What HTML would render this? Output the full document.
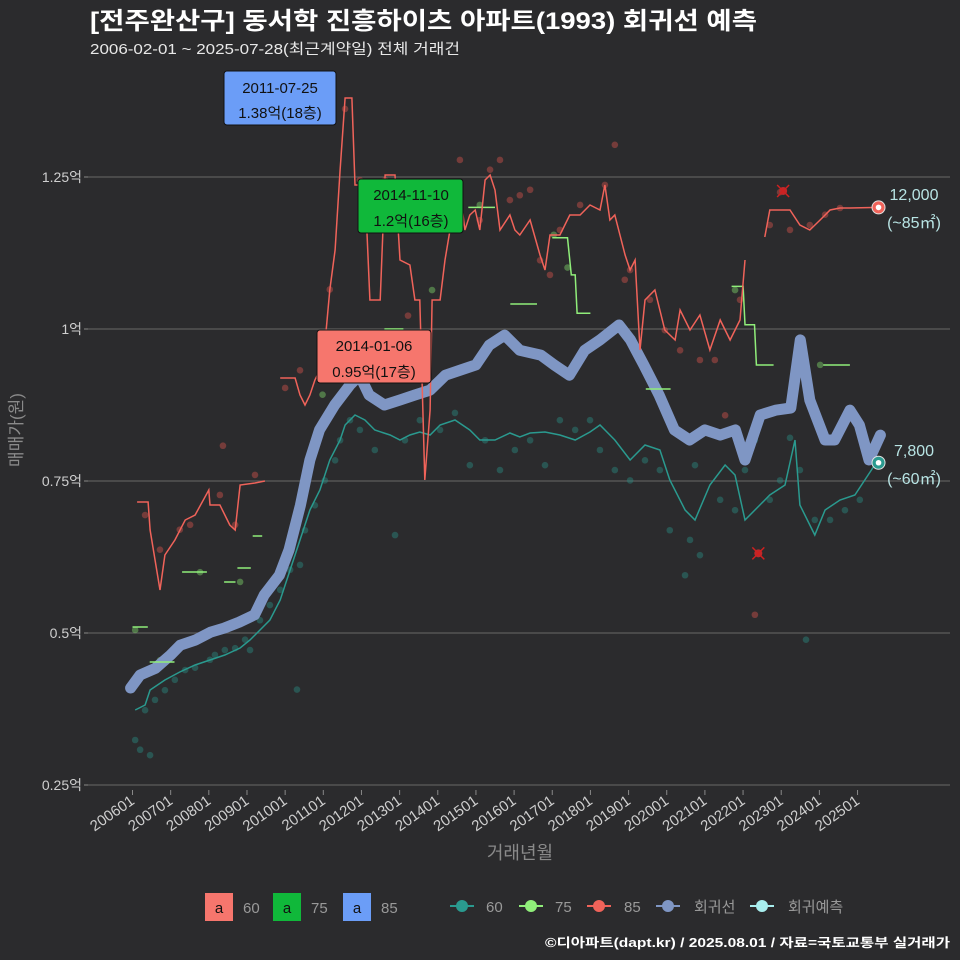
<!DOCTYPE html>
<html><head><meta charset="utf-8"><style>
body{margin:0;background:#2b2b2d;}
svg{display:block;font-family:"Liberation Sans","Noto Sans CJK KR",sans-serif;}
</style></head><body>
<svg id="c" width="960" height="960" viewBox="0 0 960 960">
<rect x="0" y="0" width="960" height="960" fill="#2b2b2d"/>
<text x="90" y="29" font-size="24" font-weight="bold" fill="#ffffff" textLength="667" lengthAdjust="spacingAndGlyphs">[전주완산구] 동서학 진흥하이츠 아파트(1993) 회귀선 예측</text>
<text x="90" y="54" font-size="14.5" fill="#e8e8e8" textLength="370" lengthAdjust="spacingAndGlyphs">2006-02-01 ~ 2025-07-28(최근계약일) 전체 거래건</text>
<g id="grid"></g>
<g id="yaxis"></g>
<g id="xaxis"></g>
<text x="22" y="430" font-size="17" fill="#8a8a8a" text-anchor="middle" transform="rotate(-90 22 430)">매매가(원)</text>
<text x="520" y="859" font-size="18" fill="#8a8a8a" text-anchor="middle">거래년월</text>
<g id="dots"></g>
<g id="lines"></g>
<g id="marks"></g>
<g>
<rect x="224" y="71" width="112" height="54" rx="3" fill="#6b9df7" stroke="#111"/>
<text x="280" y="93" font-size="15" text-anchor="middle" fill="#111">2011-07-25</text>
<text x="280" y="118" font-size="15" text-anchor="middle" fill="#111">1.38억(18층)</text></g>
<g>
<rect x="358" y="179" width="105" height="54" rx="3" fill="#10b83a" stroke="#111"/>
<text x="411" y="200" font-size="15" text-anchor="middle" fill="#111">2014-11-10</text>
<text x="411" y="226" font-size="15" text-anchor="middle" fill="#111">1.2억(16층)</text></g>
<g>
<rect x="317" y="330" width="114" height="53" rx="3" fill="#f6766d" stroke="#111"/>
<text x="374" y="351" font-size="15" text-anchor="middle" fill="#111">2014-01-06</text>
<text x="374" y="377" font-size="15" text-anchor="middle" fill="#111">0.95억(17층)</text></g>
<text x="914" y="200" font-size="16" fill="#b8e4e4" text-anchor="middle">12,000</text>
<text x="914" y="228" font-size="16" fill="#b8e4e4" text-anchor="middle">(~85㎡)</text>
<text x="914" y="456" font-size="16" fill="#b8e4e4" text-anchor="middle">7,800</text>
<text x="914" y="484" font-size="16" fill="#b8e4e4" text-anchor="middle">(~60㎡)</text>
<g font-size="15">
<rect x="205" y="893" width="28" height="28" fill="#f6766d"/><text x="219" y="913" text-anchor="middle" fill="#111">a</text><text x="243" y="913" fill="#999">60</text>
<rect x="273" y="893" width="28" height="28" fill="#10b83a"/><text x="287" y="913" text-anchor="middle" fill="#111">a</text><text x="311" y="913" fill="#999">75</text>
<rect x="343" y="893" width="28" height="28" fill="#6b9df7"/><text x="357" y="913" text-anchor="middle" fill="#111">a</text><text x="381" y="913" fill="#999">85</text>
<g><line x1="450" y1="906" x2="474" y2="906" stroke="#2a9a8f" stroke-width="2"/><circle cx="462" cy="906" r="6" fill="#2a9a8f"/><text x="486" y="912" fill="#999">60</text></g>
<g><line x1="519" y1="906" x2="543" y2="906" stroke="#90ee7a" stroke-width="2"/><circle cx="531" cy="906" r="6" fill="#90ee7a"/><text x="555" y="912" fill="#999">75</text></g>
<g><line x1="587" y1="906" x2="611" y2="906" stroke="#f0635a" stroke-width="2"/><circle cx="599" cy="906" r="6" fill="#f0635a"/><text x="624" y="912" fill="#999">85</text></g>
<g><line x1="656" y1="906" x2="680" y2="906" stroke="#7f96c4" stroke-width="2"/><circle cx="668" cy="906" r="6" fill="#7f96c4"/><text x="694" y="912" fill="#999">회귀선</text></g>
<g><line x1="750" y1="906" x2="774" y2="906" stroke="#a8eeee" stroke-width="2"/><circle cx="762" cy="906" r="6" fill="#a8eeee"/><text x="788" y="912" fill="#999">회귀예측</text></g>
</g>
<text x="950" y="947" font-size="12.5" font-weight="bold" fill="#ffffff" text-anchor="end" textLength="405" lengthAdjust="spacingAndGlyphs">©디아파트(dapt.kr) / 2025.08.01 / 자료=국토교통부 실거래가</text>
</svg>
<script>
const yTicks=[2500,5000,7500,10000,12500];
const yTickLabels=["0.25억","0.5억","0.75억","1억","1.25억"];
const xTicks=[2006,2007,2008,2009,2010,2011,2012,2013,2014,2015,2016,2017,2018,2019,2020,2021,2022,2023,2024,2025];
const xTickLabels=["200601","200701","200801","200901","201001","201101","201201","201301","201401","201501","201601","201701","201801","201901","202001","202101","202201","202301","202401","202501"];
const regYears=[2005.95,2006.2,2006.6,2007.0,2007.25,2007.65,2008.05,2008.4,2008.8,2009.2,2009.45,2009.85,2010.1,2010.4,2010.65,2010.9,2011.3,2011.7,2011.95,2012.2,2012.6,2013.0,2013.4,2013.8,2014.2,2014.6,2015.0,2015.35,2015.75,2016.15,2016.7,2017.05,2017.45,2017.85,2018.25,2018.75,2019.05,2019.4,2019.8,2020.2,2020.6,2021.0,2021.4,2021.8,2022.05,2022.45,2022.85,2023.25,2023.5,2023.75,2024.15,2024.4,2024.8,2025.05,2025.3,2025.6];
const regValues=[4095,4310,4420,4640,4800,4885,5015,5080,5180,5300,5625,5950,6365,7100,7845,8340,8750,9080,9240,8915,8750,8830,8915,8995,9240,9325,9410,9735,9900,9650,9570,9410,9240,9650,9820,10065,9820,9410,8915,8340,8175,8340,8255,8340,7845,8585,8665,8700,9820,8830,8175,8175,8665,8420,7845,8255];
const s60Years=[2006.07,2006.33,2006.46,2006.85,2007.24,2007.64,2008.03,2008.42,2008.82,2009.08,2009.34,2009.6,2009.87,2010.13,2010.39,2010.65,2010.91,2011.17,2011.44,2011.57,2011.83,2012.09,2012.35,2012.75,2013.01,2013.27,2013.53,2013.8,2014.06,2014.45,2014.84,2015.1,2015.5,2015.89,2016.15,2016.42,2016.81,2017.2,2017.6,2017.99,2018.25,2018.64,2019.04,2019.43,2019.82,2020.08,2020.48,2020.74,2021.13,2021.53,2021.79,2022.05,2022.44,2022.7,2023.1,2023.36,2023.49,2023.88,2024.15,2024.54,2024.93,2025.19,2025.45];
const s60Values=[3734,3816,4062,4227,4359,4474,4556,4638,4753,4885,5049,5214,5543,6036,6530,7023,7352,7845,8174,8421,8585,8503,8339,8256,8174,8256,8306,8256,8421,8503,8339,8174,8174,8289,8224,8289,8306,8256,8174,8306,8421,8174,7845,8092,8010,7516,7023,6858,7434,7763,7598,6858,7105,7270,7434,8174,7105,6612,7023,7187,7270,7516,7763];
const s85Years=[2006.12,2006.41,2006.46,2006.72,2006.85,2007.11,2007.38,2007.64,2008.0,2008.03,2008.29,2008.55,2008.69,2008.82,2009.21,2009.47,null,2009.87,2010.26,2010.39,2010.52,2010.65,2010.78,2010.91,2011.04,2011.17,2011.31,2011.44,2011.57,2011.75,2011.83,2012.09,2012.22,2012.49,2012.62,2012.88,2013.01,2013.27,2013.4,2013.53,2013.66,2013.8,2013.85,2014.06,2014.19,2014.32,2014.45,2014.58,2014.71,2014.84,2014.98,2015.1,2015.24,2015.37,2015.5,2015.63,2015.89,2016.02,2016.15,2016.42,2016.68,2016.81,2016.94,2017.2,2017.46,2017.73,2017.99,2018.25,2018.38,2018.51,2018.64,2018.91,2019.04,2019.17,2019.3,2019.43,2019.69,2019.95,2020.22,2020.35,2020.61,2020.87,2021.13,2021.4,2021.66,2021.92,2022.05,null,2022.57,2022.7,2023.23,2023.49,2023.75,2024.02,2024.28,2024.54,2024.8,2025.55];
const s85Values=[7155,7155,6694,5707,6283,6530,6858,6941,7352,7105,7105,6776,6694,7434,7467,7500,null,9194,9194,8914,8750,8914,9161,9325,9737,10641,11299,12615,13799,13799,12368,12368,10477,10477,12533,12533,11135,11052,10477,10477,7516,8668,10477,10477,11135,11628,12121,12286,11628,11875,11957,11628,12450,12533,12286,11628,11875,11628,11546,11793,11217,10970,11546,11546,11875,11875,12039,11957,12368,11793,11875,11217,10970,11135,9654,10477,10641,9984,9819,10312,9984,10230,9654,10148,9819,10148,11135,null,11513,11957,11957,11710,11628,11793,11957,11990,11990,12000];
const s75Years=[2006.0,2006.4,null,2006.45,2007.1,null,2007.3,2007.95,null,2008.4,2008.7,null,2008.75,2009.1,null,2009.15,2009.4,null,2012.6,2013.1,null,2014.8,2015.5,null,2015.9,2016.6,null,2017.0,2017.4,2017.5,2017.6,2017.65,2018.0,null,2019.45,2020.1,null,2021.7,2022.0,2022.05,2022.3,2022.35,2022.8,null,2024.1,2024.8];
const s75Values=[5099,5099,null,4523,4523,null,6003,6003,null,5839,5839,null,6069,6069,null,6595,6595,null,10000,10000,null,12000,12000,null,10411,10411,null,11500,11500,10890,10890,10260,10260,null,9013,9013,null,10700,10700,10070,10070,9408,9408,null,9408,9408];
const dot60Years=[2006.07,2006.2,2006.46,2006.33,2006.59,2006.85,2007.11,2007.38,2007.64,2008.03,2008.16,2008.42,2008.69,2008.95,2009.08,2009.34,2009.6,2009.87,2010.13,2010.39,2010.31,2010.52,2010.78,2011.04,2011.31,2011.44,2011.7,2011.96,2012.35,2012.88,2013.14,2013.53,2014.06,2014.45,2014.84,2015.24,2015.63,2016.02,2016.42,2016.81,2017.2,2017.6,2017.99,2018.25,2018.64,2019.04,2019.43,2019.82,2020.08,2020.48,2020.61,2020.74,2020.87,2021.4,2021.79,2022.05,2022.31,2022.7,2022.97,2023.23,2023.49,2023.65,2023.88,2024.28,2024.67,2025.06];
const dot60Values=[3240,3080,2990,3730,3900,4060,4230,4390,4430,4560,4640,4720,4750,4890,4720,5210,5460,5710,6040,6120,4070,6690,7100,7510,7840,8170,8500,8340,8010,6610,8170,8500,8340,8620,7760,8170,7680,8010,8170,7760,8500,8340,8500,8010,7680,7510,7840,7680,6690,5950,6530,7760,6280,7190,7020,7680,8170,7190,7510,8210,7680,4890,6860,6860,7020,7190];
const dot85Years=[2006.33,2006.72,2007.24,2007.51,2008.29,2008.37,2008.69,2009.21,2010.0,2010.39,2010.91,2011.17,2011.57,2011.96,2012.62,2012.88,2013.22,2014.58,2015.1,2015.37,2015.63,2015.89,2016.15,2016.42,2016.68,2016.94,2017.2,2017.73,2018.38,2018.64,2018.9,2019.04,2019.56,2019.95,2020.35,2020.87,2021.26,2021.53,2021.92,2022.31,2022.7,2022.97,2023.23,2023.75,2024.15,2024.54];
const dot85Values=[6940,6370,6700,6780,7270,8080,6780,7600,9030,9320,9410,10650,13620,12450,12450,12120,10220,12780,11790,12620,12780,12120,12200,12290,11130,10890,11630,12040,12370,13030,10810,10970,10480,9980,9650,9490,9490,8580,10480,5300,11710,12250,11630,11710,11880,11990];
const dot75Years=[2006.07,2006.72,2007.77,2008.82,2010.98,2013.85,2015.1,2017.04,2017.4,2021.79,2024.02];
const dot75Values=[5050,4550,6000,5840,8920,10640,12040,11550,11010,10640,9410];
const redXYears=[2023.05,2022.4];
const redXValues=[12270,6310];
const endYears=[2025.55,2025.55];
const endValues=[12000,7800];
const endColors=["#f0635a","#2a9a8f"];

const NS="http://www.w3.org/2000/svg";
const X=t=>132.5+(t-2006)*38.16;
const Y=v=>785-(v-2500)*152/2500;
function mk(tag,attrs,parent){const e=document.createElementNS(NS,tag);for(const k in attrs)e.setAttribute(k,attrs[k]);parent.appendChild(e);return e;}
const grid=document.getElementById('grid'),ya=document.getElementById('yaxis'),xa=document.getElementById('xaxis');
yTicks.forEach((v,i)=>{
 const l=mk('line',{x1:88,x2:950,y1:Y(v),y2:Y(v),stroke:'#5c5c5c','stroke-width':1.3},grid);
 
 
 mk('line',{x1:84,x2:88,y1:Y(v),y2:Y(v),stroke:'#888'},ya);
 const t=mk('text',{x:82,y:Y(v)+5,'font-size':14,fill:'#cfcfcf','text-anchor':'end'},ya);t.textContent=yTickLabels[i];
 
 
});
xTicks.forEach((yr,i)=>{
 const x=X(yr);
 mk('line',{x1:x,x2:x,y1:790,y2:795,stroke:'#888'},xa);
 const t=mk('text',{x:x+3,y:803,'font-size':15,fill:'#cfcfcf','text-anchor':'end',transform:`rotate(-35 ${x+3} 803)`},xa);t.textContent=xTickLabels[i];
 
 
});
const dots=document.getElementById('dots');
function scatter(ys,vs,col,name){ys.forEach((t,i)=>{const c=mk('circle',{cx:X(t),cy:Y(vs[i]),r:3.3,fill:col,'fill-opacity':0.45},dots);
 
 });}
scatter(dot60Years,dot60Values,'#2a8a80','point-60');
scatter(dot85Years,dot85Values,'#d0524b','point-85');
scatter(dot75Years,dot75Values,'#7fd46a','point-75');
const lines=document.getElementById('lines');
function path(ys,vs){let d='',m=true;ys.forEach((t,i)=>{if(t===null){m=true;return;}d+=(m?'M':'L')+X(t).toFixed(1)+' '+Y(vs[i]).toFixed(1)+' ';m=false;});return d;}
let p=mk('path',{d:path(regYears,regValues),stroke:'#7f96c4',"stroke-width":11,fill:'none','stroke-linejoin':'round','stroke-linecap':'round'},lines);


p=mk('path',{d:path(s60Years,s60Values),stroke:'#2a9a8f',"stroke-width":1.5,fill:'none'},lines);


p=mk('path',{d:path(s75Years,s75Values),stroke:'#90ee7a',"stroke-width":1.5,fill:'none'},lines);


p=mk('path',{d:path(s85Years,s85Values),stroke:'#f0635a',"stroke-width":1.5,fill:'none'},lines);


const marks=document.getElementById('marks');
redXYears.forEach((t,i)=>{const x=X(t),y=Y(redXValues[i]);const g=mk('g',{},marks);
 
 
 mk('circle',{cx:x,cy:y,r:4,fill:'#c0282a'},g);
 mk('path',{d:`M${x-6} ${y-6}L${x+6} ${y+6}M${x-6} ${y+6}L${x+6} ${y-6}`,stroke:'#d02020','stroke-width':1.5},g);});
endYears.forEach((t,i)=>{const x=X(t),y=Y(endValues[i]);const g=mk('g',{},marks);
 
 
 mk('circle',{cx:x,cy:y,r:6.5,fill:endColors[i],stroke:'#e0e0e0','stroke-width':1},g);
 mk('circle',{cx:x,cy:y,r:2.8,fill:'#ffffff'},g);});
</script>
</body></html>
